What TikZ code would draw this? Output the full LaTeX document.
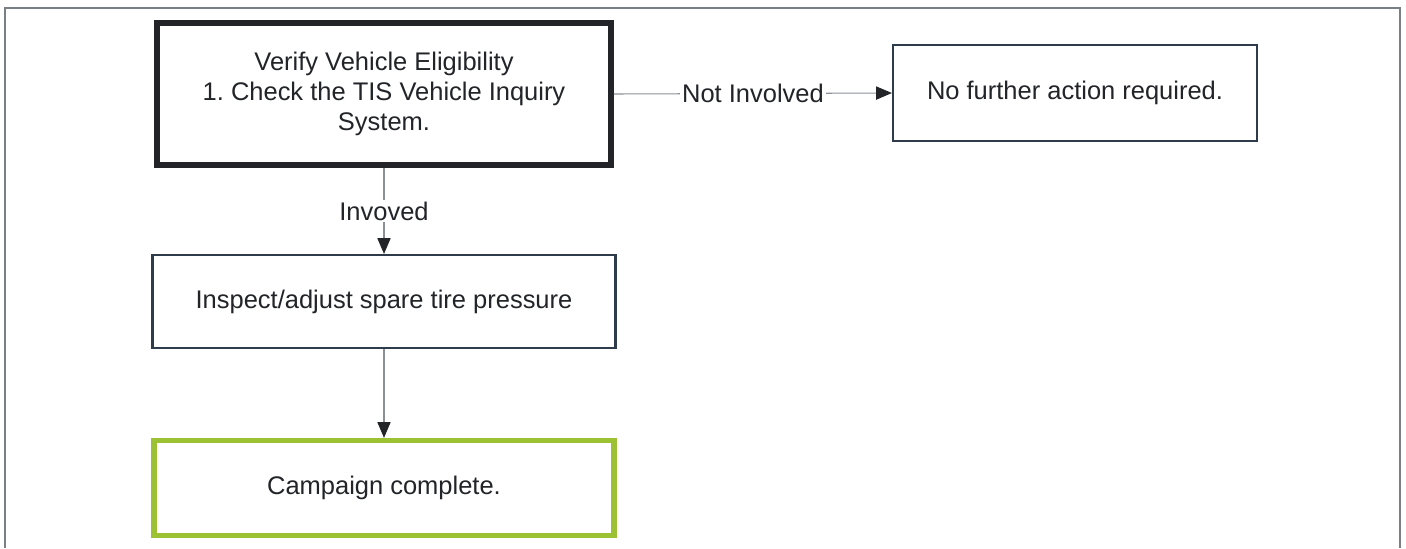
\documentclass[tikz,border=0pt]{standalone}
\usepackage{fontspec}
\setmainfont{Liberation Sans}
\usetikzlibrary{positioning, arrows.meta}
\frenchspacing
\definecolor{FrameGray}{HTML}{7A7F86}
\definecolor{BoxSlate}{HTML}{2E3B4A}
\definecolor{InkDark}{HTML}{222428}
\definecolor{DoneGreen}{HTML}{9CC233}
\definecolor{LinkGray}{HTML}{8A9098}

\begin{document}
\begin{tikzpicture}[
    box/.style={draw=BoxSlate, line width=1.2pt, fill=white, align=center,
      text=InkDark, font=\fontsize{14.5}{17}\selectfont, inner sep=0pt},
    startbox/.style={box, draw=InkDark, line width=3.4pt},
    endbox/.style={box, draw=DoneGreen, line width=3pt},
    link/.style={LinkGray, line width=0.6pt, -{Triangle[length=9pt, width=7.5pt, color=InkDark]}},
    tag/.style={fill=white, text=InkDark, font=\fontsize{14.5}{17}\selectfont, inner sep=1pt}
]
  \useasboundingbox (0,0) rectangle (28.12,-10.96);
  % Frame
  \draw[FrameGray, line width=0.8pt] (0.1,-10.96) -- (0.1,-0.16) -- (28.0,-0.16) -- (28.0,-10.96);
  % Boxes
  \node[startbox, minimum width=9.08cm, minimum height=2.84cm] (verify) at (7.68,-1.88)
    {Verify Vehicle Eligibility\\1. Check the TIS Vehicle Inquiry\\System.};
  \node[box, minimum width=7.28cm, minimum height=1.92cm] (noaction) at (21.5,-1.86)
    {No further action required.};
  \node[box, minimum width=9.26cm, minimum height=1.86cm] (inspect) at (7.68,-6.03)
    {Inspect/adjust spare tire pressure};
  \node[endbox, minimum width=9.2cm, minimum height=1.9cm] (done) at (7.68,-9.76)
    {Campaign complete.};
  % Links
  \draw[link] (verify.east) -- node[tag] {Not Involved} (noaction.west);
  \draw[link] (verify.south) -- node[tag] {Invoved} (inspect.north);
  \draw[link] (inspect.south) -- (done.north);
\end{tikzpicture}
\end{document}
